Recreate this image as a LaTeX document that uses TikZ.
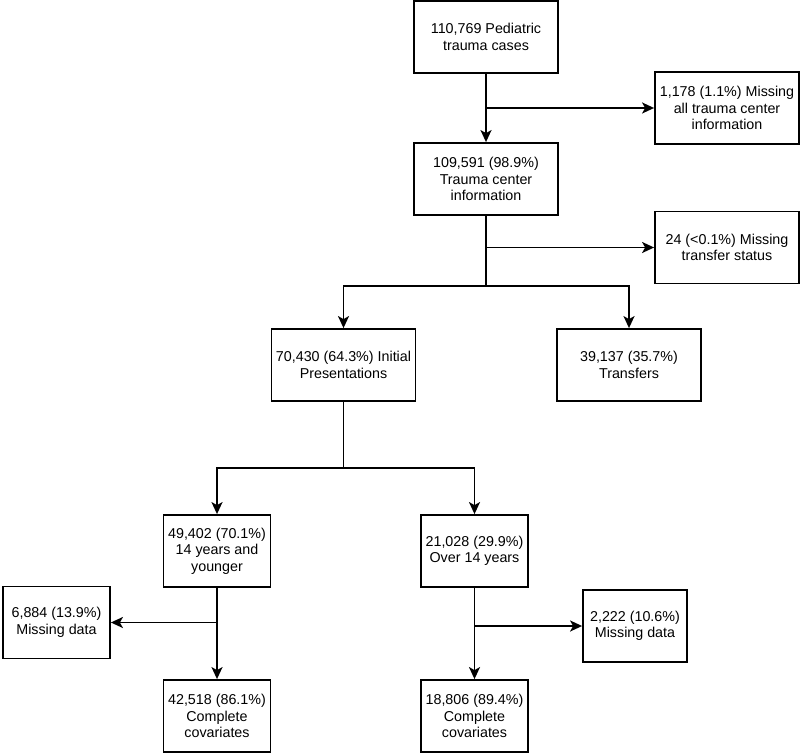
\documentclass[tikz,border=0pt]{standalone}
\usepackage{fontspec}
\setmainfont{Liberation Sans}
\usetikzlibrary{arrows.meta}

\begin{document}
\begin{tikzpicture}[
  x=1pt, y=-1pt,
  >={Stealth[length=12pt, width=11pt, inset=3pt]},
  every node/.style={font=\fontsize{14.3}{16.5}\selectfont},
  box/.style={rectangle, draw=black, line width=1.8pt, minimum width=144pt, minimum height=72pt, align=center, inner sep=2pt},
  narrowbox/.style={box, minimum width=107pt},
  flow/.style={line width=1.8pt}
]
\useasboundingbox (0,0) rectangle (800,754);

\node[box] (cases) at (486,37) {110,769 Pediatric\\trauma cases};
\node[box] (misstc) at (727,108) {1,178 (1.1\%) Missing\\all trauma center\\information};
\node[box] (tcinfo) at (486,179) {109,591 (98.9\%)\\Trauma center\\information};
\node[box] (missts) at (727,247.5) {24 (<0.1\%) Missing\\transfer status};

\node[box] (initial) at (343.5,365) {70,430 (64.3\%) Initial\\Presentations};
\node[box] (transfers) at (629,365) {39,137 (35.7\%)\\Transfers};

\node[narrowbox] (young) at (217,551) {49,402 (70.1\%)\\14 years and\\younger};
\node[narrowbox] (old) at (474.5,551) {21,028 (29.9\%)\\Over 14 years};
\node[narrowbox] (missyoung) at (56.5,622.5) {6,884 (13.9\%)\\Missing data};
\node[narrowbox, minimum width=104pt] (missold) at (635,626) {2,222 (10.6\%)\\Missing data};
\node[narrowbox] (compyoung) at (217,716) {42,518 (86.1\%)\\Complete\\covariates};
\node[narrowbox] (compold) at (474.5,716) {18,806 (89.4\%)\\Complete\\covariates};

\draw[flow, ->] (cases) -- (tcinfo);
\draw[flow, ->] (cases.south |- misstc.west) -- (misstc.west);

\draw[flow] (tcinfo.south) -- ++(0,70) coordinate (split1);
\draw[flow, ->] (tcinfo.south |- missts.west) -- (missts.west);
\draw[flow, ->] (split1) -| (initial.north);
\draw[flow, ->] (split1) -| (transfers.north);

\draw[flow] (initial.south) -- ++(0,66) coordinate (split2);
\draw[flow, ->] (split2) -| (young.north);
\draw[flow, ->] (split2) -| (old.north);

\draw[flow, ->] (young) -- (compyoung);
\draw[flow, ->] (young.south |- missyoung.east) -- (missyoung.east);
\draw[flow, ->] (old) -- (compold);
\draw[flow, ->] (old.south |- missold.west) -- (missold.west);

\end{tikzpicture}
\end{document}
